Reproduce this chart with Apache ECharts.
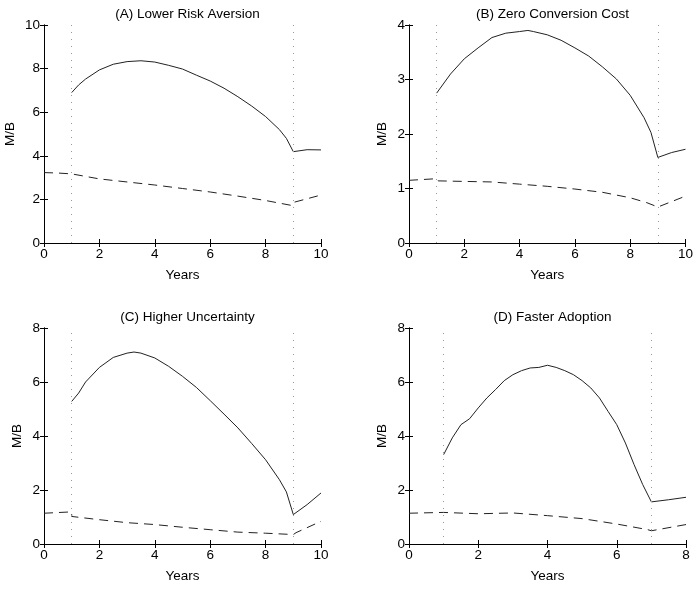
<!DOCTYPE html>
<html>
<head>
<meta charset="utf-8">
<script src="https://cdn.jsdelivr.net/npm/echarts@6/dist/echarts.min.js"></script>
<style>
html,body{margin:0;padding:0;background:#fff;}
#chart{width:696px;height:589px;}
</style>
</head>
<body>
<div id="chart"></div>
<script>
// ---- Data ----
var titles = ['(A) Lower Risk Aversion', '(B) Zero Conversion Cost', '(C) Higher Uncertainty', '(D) Faster Adoption'];
var xMax = [10, 10, 10, 8];
var yMax = [10, 4, 8, 8];
var yStep = [2, 1, 2, 2];
var xStep = [2, 2, 2, 2];
var vLines = [[1, 9], [1, 9], [1, 9], [1, 7]];

var aSolid = [[1,6.9],[1.25,7.25],[1.5,7.52],[2,7.94],[2.5,8.2],[3,8.32],[3.5,8.36],[4,8.3],[4.5,8.15],[5,7.98],[5.5,7.7],[6,7.43],[6.5,7.1],[7,6.71],[7.5,6.28],[8,5.8],[8.5,5.2],[8.75,4.8],[9,4.19],[9.5,4.28],[10,4.27]];
var aDash  = [[0,3.23],[0.5,3.21],[1,3.17],[2,2.94],[3,2.8],[4,2.66],[5,2.5],[6,2.34],[7,2.15],[8,1.95],[8.95,1.72],[9,1.86],[10,2.2]];

var bSolid = [[1,2.75],[1.5,3.1],[2,3.38],[2.5,3.58],[3,3.77],[3.5,3.85],[4,3.88],[4.3,3.9],[4.5,3.88],[5,3.82],[5.5,3.72],[6,3.58],[6.5,3.43],[7,3.23],[7.5,3.01],[8,2.71],[8.5,2.3],[8.75,2.03],[9,1.57],[9.5,1.66],[10,1.72]];
var bDash  = [[0,1.15],[1,1.18],[1.05,1.14],[2,1.13],[3,1.12],[4,1.08],[5,1.04],[6,0.99],[7,0.93],[8,0.83],[8.6,0.74],[9,0.66],[10,0.86]];

var cSolid = [[1,5.28],[1.25,5.59],[1.5,6.0],[2,6.54],[2.5,6.91],[3,7.07],[3.25,7.11],[3.5,7.07],[4,6.89],[4.5,6.58],[5,6.21],[5.5,5.8],[6,5.31],[6.5,4.81],[7,4.3],[7.5,3.72],[8,3.12],[8.5,2.38],[8.75,1.93],[9,1.09],[9.5,1.46],[10,1.89]];
var cDash  = [[0,1.14],[1,1.19],[1,1.02],[2,0.9],[3,0.79],[4,0.72],[5,0.62],[6,0.53],[7,0.44],[8,0.4],[9,0.35],[9.1,0.42],[10,0.84]];

var dSolid = [[1,3.31],[1.25,3.93],[1.5,4.42],[1.75,4.64],[2,5.04],[2.25,5.41],[2.5,5.72],[2.75,6.05],[3,6.27],[3.25,6.42],[3.5,6.52],[3.75,6.54],[4,6.62],[4.25,6.54],[4.5,6.42],[4.75,6.27],[5,6.05],[5.25,5.78],[5.5,5.41],[5.75,4.91],[6,4.42],[6.25,3.74],[6.5,2.94],[6.75,2.2],[7,1.56],[7.5,1.64],[8,1.73]];
var dDash  = [[0,1.14],[1,1.17],[2,1.12],[3,1.15],[4,1.05],[5,0.94],[6,0.74],[6.9,0.53],[7,0.49],[8,0.72]];

var solids = [aSolid, bSolid, cSolid, dSolid];
var dashes = [aDash, bDash, cDash, dDash];

// ---- Layout ----
var grids = [
  {left:44, top:25, width:277, height:218},
  {left:409, top:25, width:277, height:218},
  {left:44, top:328, width:277, height:216},
  {left:409, top:328, width:277, height:216}
];
var yNameGap = [27, 20, 20, 20];
var FONT = 'Liberation Sans, Arial, Helvetica, sans-serif';
var FS = 13.5;

var option = {
  backgroundColor:'#fff',
  animation:false,
  title:[], grid:[], xAxis:[], yAxis:[], series:[]
};

for (var i = 0; i < 4; i++) {
  var g = grids[i];
  option.grid.push({left:g.left, top:g.top, width:g.width, height:g.height, containLabel:false});
  option.title.push({
    text: titles[i], left: g.left + g.width/2, top: g.top - 23, textAlign:'center',
    textStyle:{fontFamily:FONT, fontSize:FS, fontWeight:'normal', color:'#000'}
  });
  var axLine = {show:true, lineStyle:{color:'#000', width:1}};
  var tick = {show:true, inside:true, length:4, lineStyle:{color:'#000'}};
  option.xAxis.push({
    gridIndex:i, type:'value', min:0, max:xMax[i], interval:xStep[i], position:'bottom',
    axisLine:axLine, axisTick:tick, splitLine:{show:false},
    axisLabel:{fontFamily:FONT, fontSize:FS, color:'#000', margin:4},
    name:'Years', nameLocation:'middle', nameGap:25,
    nameTextStyle:{fontFamily:FONT, fontSize:FS, color:'#000'}
  });
  option.xAxis.push({
    gridIndex:i, type:'value', min:0, max:xMax[i], interval:xStep[i], position:'top',
    axisLine:axLine, axisTick:tick, splitLine:{show:false}, axisLabel:{show:false}
  });
  option.yAxis.push({
    gridIndex:i, type:'value', min:0, max:yMax[i], interval:yStep[i], position:'left',
    axisLine:axLine, axisTick:tick, splitLine:{show:false},
    axisLabel:{fontFamily:FONT, fontSize:FS, color:'#000', margin:4},
    name:'M/B', nameLocation:'middle', nameGap:yNameGap[i], nameRotate:90,
    nameTextStyle:{fontFamily:FONT, fontSize:FS, color:'#000'}
  });
  option.yAxis.push({
    gridIndex:i, type:'value', min:0, max:yMax[i], interval:yStep[i], position:'right',
    axisLine:axLine, axisTick:tick, splitLine:{show:false}, axisLabel:{show:false}
  });
  option.series.push({
    type:'line', xAxisIndex:2*i, yAxisIndex:2*i, data:solids[i], showSymbol:false, symbol:'none',
    lineStyle:{color:'#222', width:1}, silent:true,
    markLine:{
      symbol:'none', silent:true, label:{show:false},
      lineStyle:{color:'#999', width:1, type:[1,6]},
      data: vLines[i].map(function(v){ return {xAxis:v}; })
    }
  });
  option.series.push({
    type:'line', xAxisIndex:2*i, yAxisIndex:2*i, data:dashes[i], showSymbol:false, symbol:'none',
    lineStyle:{color:'#222', width:1, type:[9,6]}, silent:true
  });
}

var chart = echarts.init(document.getElementById('chart'), null, {renderer:'canvas'});
chart.setOption(option);
</script>
</body>
</html>
